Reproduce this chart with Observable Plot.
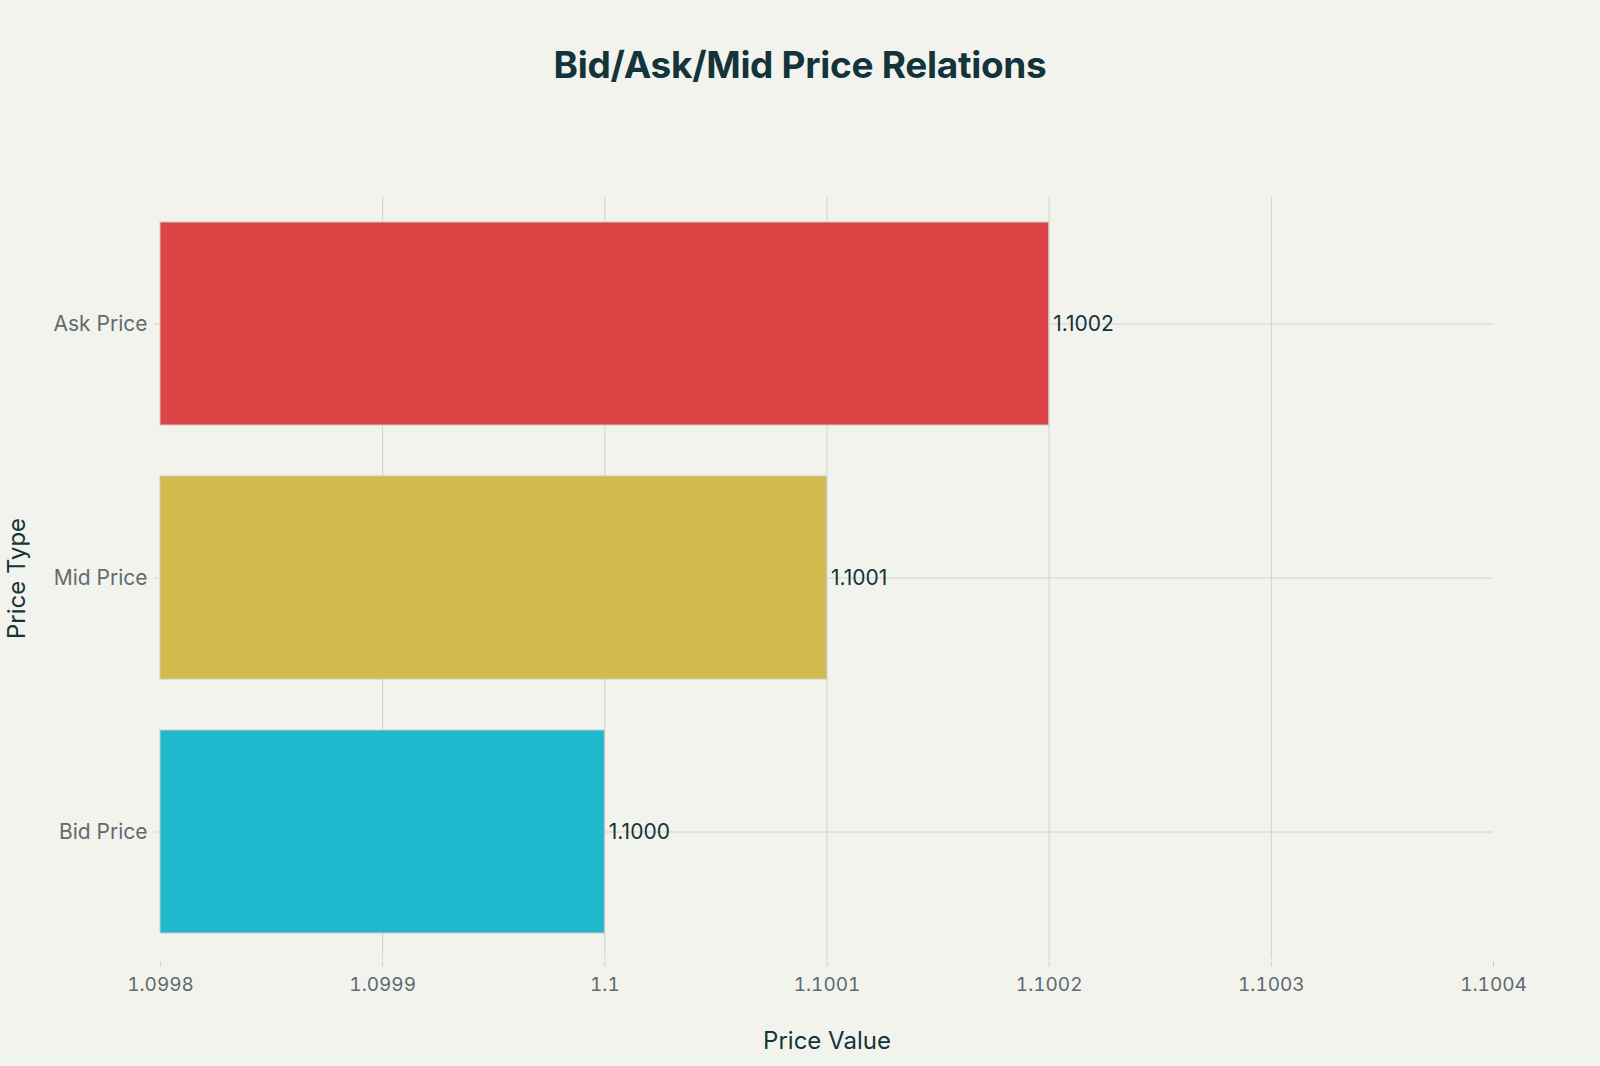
<!DOCTYPE html>
<html>
<head>
<meta charset="utf-8">
<script src="https://cdn.jsdelivr.net/npm/d3@7"></script>
<script src="https://cdn.jsdelivr.net/npm/@observablehq/plot@0.6"></script>
<style>
  html, body { margin: 0; padding: 0; background: #f3f3ee; }
  #title { height: 130px; width: 1600px; box-sizing: border-box; padding-top: 42px; text-align: center;
    font-family: Inter, "Noto Sans", sans-serif; font-weight: 700; font-size: 37px; color: #13343b; letter-spacing: -0.3px; }
  #chart svg { display: block; }
</style>
</head>
<body>
<div id="title">Bid/Ask/Mid Price Relations</div>
<div id="chart"></div>
<script>
const categories = ["Ask Price", "Mid Price", "Bid Price"];
const values = [1.1002, 1.1001, 1.1000];
const colors = ["#db4545", "#d2ba4c", "#1fb8cd"];
const xTicks = [1.0998, 1.0999, 1.1, 1.1001, 1.1002, 1.1003, 1.1004];
const xDomain = [1.0998, 1.1004];
const xTitle = "Price Value";
const yTitle = "Price Type";

const data = categories.map((c, i) => ({ category: c, value: values[i], color: colors[i] }));
const gridTicks = xTicks.slice(1, -1);

const chart = Plot.plot({
  width: 1600,
  height: 936,
  marginTop: 67,
  marginBottom: 107,
  marginLeft: 160,
  marginRight: 107,
  style: { background: "#f3f3ee", fontFamily: "Inter, 'Noto Sans', sans-serif", overflow: "visible" },
  x: { domain: xDomain, ticks: xTicks, tickFormat: d => String(+d.toFixed(4)) },
  y: { domain: categories, paddingInner: 0.2, paddingOuter: 0.1 },
  marks: [
    Plot.gridX(gridTicks, { stroke: "#d2d2cc", strokeOpacity: 1, strokeWidth: 1 }),
    Plot.gridY(categories, { stroke: "#d2d2cc", strokeOpacity: 1, strokeWidth: 1 }),
    Plot.barX(data, { y: "category", x1: () => xDomain[0], x2: "value", fill: "color", stroke: "#cdc9c4", strokeWidth: 1 }),
    Plot.text(data, { y: "category", x: "value", text: d => d.value.toFixed(4), textAnchor: "start", dx: 4,
      fill: "#13343b", fontSize: 21 }),
    Plot.axisX({ ticks: xTicks, tickFormat: d => String(+d.toFixed(4)), tickSize: 6, tickPadding: 10, dy: 2,
      stroke: "#d2d2cc", color: "#5f6b70", fontSize: 19, label: null }),
    Plot.axisY({ tickSize: 6, tickPadding: 7, stroke: "#d2d2cc", color: "#5f6b70", fontSize: 21, label: null }),
    Plot.text([xTitle], { frameAnchor: "bottom", dy: 82, lineAnchor: "middle", fill: "#13343b", fontSize: 24 }),
    Plot.text([yTitle], { frameAnchor: "left", dx: -143, rotate: -90, textAnchor: "middle", lineAnchor: "middle", fill: "#13343b", fontSize: 24 })
  ]
});
document.getElementById("chart").appendChild(chart);
</script>
</body>
</html>
